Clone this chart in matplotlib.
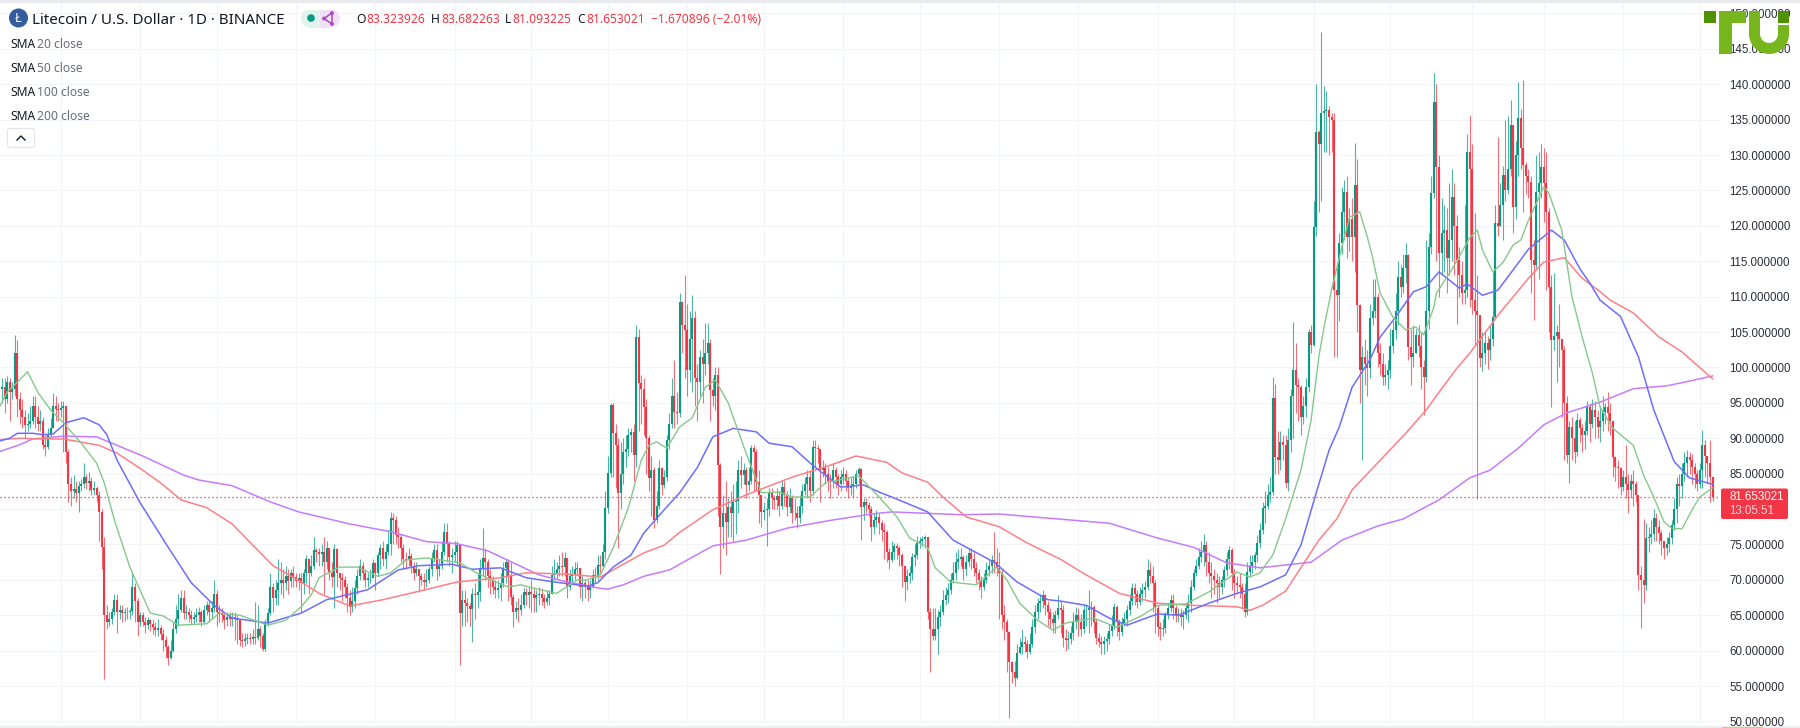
import matplotlib
matplotlib.use("Agg")
import matplotlib.pyplot as plt
from matplotlib.patches import Rectangle, FancyBboxPatch, Circle, Wedge

# ---------- data: daily closes / highs / lows ----------
closes = [
97.3,95.5,98.0,96.5,97.0,102.0,95.5,94.0,93.0,91.9,
92.0,92.5,94.5,93.0,92.0,92.5,89.0,88.7,90.5,91.5,
94.5,94.2,94.0,94.3,94.5,88.0,83.5,82.5,82.8,82.3,
83.2,83.6,84.5,83.7,83.9,82.7,83.0,82.0,79.6,74.7,
65.0,64.0,64.5,65.5,67.2,65.5,65.7,65.3,65.5,65.4,
65.6,69.0,67.0,64.0,65.0,64.0,63.6,64.3,63.7,63.3,
62.9,63.2,62.4,61.5,60.5,59.0,60.0,63.0,64.5,65.7,
67.4,65.3,65.5,65.0,64.5,64.8,65.0,65.5,64.0,65.7,
66.5,65.5,66.0,68.0,65.5,65.3,65.0,64.3,64.8,64.5,
64.7,64.5,64.3,61.5,61.3,61.6,61.8,61.7,61.9,61.8,
63.0,62.0,60.3,63.9,65.3,69.0,67.5,68.5,69.5,70.0,
69.5,70.5,69.8,71.0,70.4,69.8,70.2,69.5,71.0,73.0,
71.0,72.0,74.2,74.0,73.6,73.9,72.5,74.5,71.0,70.4,
74.3,71.0,70.2,70.0,69.0,67.5,66.2,67.0,68.8,70.5,
72.0,71.0,70.0,70.2,70.3,72.4,71.0,73.5,74.5,73.0,
74.0,75.0,78.7,78.5,76.3,76.0,74.5,73.0,72.8,73.3,
72.0,71.0,71.5,70.5,70.0,69.7,70.0,71.5,73.0,74.2,
71.5,72.0,74.0,76.7,75.0,73.2,73.5,74.0,74.9,65.3,
67.2,66.8,66.3,65.9,68.0,67.9,68.3,71.7,73.1,72.5,
70.5,70.0,69.0,68.5,68.8,69.5,71.7,72.5,70.5,67.6,
65.5,66.0,65.8,66.5,68.3,67.8,68.3,68.0,67.4,67.9,
68.0,67.5,66.9,67.5,68.0,70.7,71.0,71.5,72.0,71.8,
73.1,69.0,70.5,70.7,71.5,71.7,69.0,69.5,69.0,68.5,
69.0,70.7,70.5,72.1,72.0,73.9,80.2,85.1,94.7,90.7,
89.0,82.3,85.0,88.0,88.5,90.5,90.9,87.6,104.3,97.8,
97.0,94.4,90.0,84.4,85.5,78.4,80.5,85.8,83.4,84.5,
89.7,92.0,96.0,93.7,93.5,109.2,106.0,105.3,99.6,104.0,
107.0,98.5,98.0,101.5,100.5,102.0,103.5,96.8,96.0,98.9,
86.2,77.5,79.5,78.2,80.3,79.5,81.0,81.2,85.5,84.8,
85.5,83.4,84.0,88.6,88.0,83.8,82.0,79.6,79.8,80.0,
82.3,81.5,81.3,81.8,80.5,83.1,82.0,80.3,81.5,79.5,
79.5,78.7,80.5,82.6,83.5,84.5,82.5,88.8,88.6,88.5,
85.5,85.8,85.0,84.0,83.8,85.5,84.5,83.5,84.5,85.0,
84.0,83.0,83.3,83.5,85.0,85.7,80.3,81.0,80.6,80.0,
77.5,78.5,78.9,78.0,77.0,76.7,74.0,72.8,74.0,74.8,
74.5,73.5,72.0,69.7,70.5,71.0,73.2,73.5,75.2,75.5,
75.8,76.0,65.5,63.0,62.0,63.0,64.8,65.5,67.2,67.8,
68.5,70.0,71.0,72.5,73.0,73.2,71.5,72.5,73.8,73.0,
71.7,71.0,70.0,69.0,70.0,71.4,72.0,72.8,72.5,71.7,
71.0,65.0,64.0,62.6,58.4,57.0,56.1,59.7,60.5,61.2,
61.0,59.8,61.0,63.3,65.5,66.7,67.0,67.9,66.5,65.5,
64.5,63.9,65.0,66.0,65.8,61.8,61.5,61.7,62.5,64.0,
65.0,64.0,63.0,65.7,65.8,66.0,66.2,64.0,61.8,61.2,
61.0,61.4,61.6,62.8,63.5,66.2,64.0,62.6,63.9,64.5,
65.7,67.0,68.8,68.0,66.9,68.0,68.5,69.0,71.4,70.5,
69.5,66.0,63.3,63.0,63.2,65.0,66.0,67.2,66.0,65.0,
65.2,64.8,65.0,66.0,66.7,69.0,71.0,72.0,73.2,74.0,
74.9,72.5,71.0,70.5,70.0,69.5,69.0,70.0,71.4,73.0,
74.2,71.0,69.5,69.3,69.0,68.0,65.5,71.1,72.0,72.5,
73.5,75.2,77.0,80.2,80.5,82.0,82.4,95.7,87.4,87.0,
89.5,89.0,83.7,89.7,96.0,99.6,97.5,97.2,93.0,94.5,
97.2,105.0,103.2,119.8,133.3,131.5,135.9,136.2,136.4,135.4,
135.0,110.9,110.2,117.6,122.0,124.8,118.4,121.0,118.4,125.8,
108.8,99.6,101.5,100.5,99.9,107.0,108.0,110.0,102.0,100.5,
98.6,99.0,99.6,103.0,105.3,108.0,112.8,111.4,114.0,115.9,
102.9,101.5,102.0,104.6,103.0,100.0,98.6,108.0,117.0,124.6,
137.5,128.3,116.2,119.0,119.4,115.5,118.0,124.1,120.0,115.2,
113.0,110.5,111.0,130.4,128.0,109.5,108.0,107.4,101.3,102.0,
103.5,102.5,104.0,107.1,120.4,120.0,123.0,127.2,125.0,128.0,
134.2,122.7,130.0,135.2,131.0,128.6,127.0,126.2,115.2,114.5,
124.8,126.0,128.3,126.0,122.0,111.4,103.9,104.5,105.0,104.0,
102.5,95.0,87.6,91.6,90.0,88.0,92.6,91.5,90.5,91.0,
94.4,92.0,94.0,93.0,91.6,92.5,93.7,94.4,93.5,92.5,
87.3,86.0,85.8,83.1,84.5,83.5,82.7,84.0,83.5,82.0,
70.7,70.0,69.3,75.9,76.0,76.5,78.7,77.5,76.6,75.5,
74.5,75.0,75.9,77.7,80.0,83.6,83.3,85.0,86.5,87.3,
87.0,86.0,85.0,83.6,85.5,89.0,87.5,86.5,84.5,81.653,
]
highs = [
98.5,98.5,98.8,98.5,98.0,104.6,103.9,96.5,95.5,94.0,
93.5,94.5,96.0,96.0,94.5,94.0,93.0,90.5,91.5,92.8,
96.4,96.0,95.0,95.2,95.2,94.6,88.5,84.5,84.8,84.0,
84.0,84.3,86.5,85.0,85.2,84.5,84.0,83.3,82.5,80.0,
76.0,66.5,65.5,66.0,68.0,68.0,66.5,66.5,66.0,66.2,
66.0,71.0,69.5,67.5,65.5,65.5,64.8,64.8,64.5,64.5,
64.0,64.5,63.6,63.0,62.0,60.8,61.5,64.0,66.5,68.0,
68.5,68.5,66.5,66.0,65.8,65.5,66.0,66.2,65.8,66.5,
67.0,67.0,67.0,70.0,68.5,66.5,66.0,65.5,65.5,65.5,
65.5,65.5,65.0,64.5,62.5,62.5,62.5,62.5,63.0,66.9,
66.5,63.5,62.5,64.5,66.0,71.0,69.5,70.0,73.0,72.5,
71.5,72.0,71.5,71.5,72.0,71.0,71.0,71.0,71.5,73.5,
73.0,73.5,76.0,74.5,74.5,75.0,76.0,75.5,74.5,72.5,
75.0,74.5,71.0,71.0,70.5,69.5,68.5,69.0,70.0,71.5,
73.0,72.5,71.5,71.0,71.5,73.0,72.5,74.0,75.0,75.5,
75.0,77.0,79.6,79.5,79.0,77.5,76.5,75.0,74.0,74.5,
73.8,72.5,72.5,71.5,71.0,71.0,71.5,72.0,74.0,75.0,
75.0,73.0,75.5,78.0,78.0,75.5,74.5,75.5,75.5,75.0,
68.5,68.5,67.5,66.8,68.8,69.5,71.0,73.0,77.3,74.5,
73.0,71.5,70.5,70.0,70.0,71.0,72.5,73.0,73.0,72.5,
68.0,67.0,67.5,68.0,68.8,68.8,69.0,70.0,69.0,68.5,
69.0,68.8,68.0,68.5,68.5,72.0,73.0,72.5,73.5,74.0,
74.0,73.0,71.5,72.0,72.5,72.5,71.5,70.5,70.0,70.0,
70.0,71.5,71.8,73.5,73.5,75.0,82.5,87.5,95.0,95.0,
92.0,90.0,89.5,90.0,90.5,91.5,91.5,92.0,106.0,105.5,
99.0,98.5,95.5,90.5,87.5,86.0,82.5,87.0,86.0,85.5,
90.5,93.5,98.5,101.0,96.5,110.5,109.0,113.0,109.0,108.0,
110.2,108.0,100.5,102.5,104.0,106.3,106.3,104.0,98.5,100.0,
100.0,86.5,82.0,84.0,81.5,82.5,83.5,84.0,87.0,87.5,
86.5,86.0,86.0,89.0,89.0,88.5,85.5,82.0,81.0,81.5,
83.0,83.0,82.0,83.0,82.5,84.0,84.0,82.5,83.0,82.0,
81.5,80.5,82.0,83.5,84.5,85.5,85.5,89.7,89.7,89.0,
88.5,87.0,86.5,86.0,85.0,86.5,86.0,85.0,85.5,86.0,
85.5,84.5,84.5,84.5,85.5,86.0,85.8,81.5,81.5,81.0,
80.5,79.5,79.8,79.5,78.5,78.0,77.0,74.5,75.5,75.2,
75.2,74.8,73.8,72.0,71.5,72.0,73.8,75.0,76.2,76.0,
76.2,76.4,76.0,66.0,66.0,66.0,65.8,66.5,68.5,69.0,
69.5,71.0,72.5,74.0,74.3,74.5,73.5,73.5,74.5,74.5,
74.0,72.5,71.5,70.5,71.0,72.5,73.0,73.5,76.8,74.5,
74.0,71.5,66.5,64.5,62.8,58.5,58.5,61.0,61.8,63.0,
62.0,61.5,62.5,64.5,66.5,67.5,68.0,68.5,68.0,67.0,
66.0,65.5,65.8,67.8,67.0,66.5,63.0,62.8,63.5,65.5,
66.2,66.0,65.2,66.5,66.5,68.6,67.0,66.5,64.5,62.5,
62.0,62.0,62.5,63.8,65.0,66.8,66.5,64.5,64.8,65.5,
66.5,68.0,69.5,69.5,68.5,69.0,69.5,69.8,73.0,72.5,
72.0,70.0,66.5,64.0,64.5,65.5,66.8,67.8,68.0,66.5,
66.0,66.0,65.8,66.8,68.0,70.0,71.5,73.0,74.5,75.5,
76.5,75.5,74.0,72.5,71.5,71.0,70.5,70.5,72.0,74.0,
74.8,74.5,71.5,70.5,71.0,69.5,69.5,72.5,73.5,73.5,
74.0,76.3,78.0,81.0,82.5,83.5,84.5,98.7,97.6,91.0,
91.0,90.5,90.5,91.5,97.0,106.4,103.4,98.5,97.5,96.0,
98.5,105.5,106.0,123.5,140.0,133.5,147.4,139.8,139.0,137.0,
136.0,136.0,114.0,119.0,125.5,126.5,127.0,122.5,124.0,131.7,
129.4,109.0,103.0,104.0,102.5,109.0,112.5,112.5,110.5,103.5,
102.0,100.5,101.0,105.5,106.5,110.5,115.0,114.5,116.0,117.6,
116.0,105.5,106.0,105.5,106.0,105.0,101.0,118.0,119.0,127.0,
141.6,140.0,130.0,124.0,123.0,122.5,126.0,128.0,126.0,121.5,
117.0,115.0,123.0,133.0,135.7,131.5,121.8,113.0,103.5,105.0,
105.0,104.5,106.0,113.5,123.0,132.6,126.0,128.5,135.0,135.5,
137.8,134.0,132.0,140.3,136.5,140.6,129.0,128.0,127.0,118.0,
130.0,130.5,131.5,131.0,130.5,122.5,113.0,113.3,106.0,109.0,
104.0,103.0,96.0,92.5,93.0,92.5,93.5,93.0,92.0,92.5,
95.2,95.0,95.5,95.3,94.0,94.5,96.0,95.0,96.5,95.0,
92.5,87.5,87.0,86.0,85.5,89.0,85.0,85.0,85.5,84.0,
82.0,72.0,78.6,78.0,77.5,78.5,80.0,79.5,78.5,77.0,
75.5,76.0,76.8,78.5,81.5,84.5,85.0,86.5,88.0,88.3,
88.0,87.8,86.5,85.5,86.5,91.2,89.7,87.5,89.7,83.682,
]
lows = [
95.0,93.5,95.0,92.5,95.5,96.0,93.0,92.0,91.5,90.0,
91.0,91.5,92.0,91.5,91.0,91.0,88.5,87.5,88.5,90.0,
91.5,92.5,92.5,93.0,88.0,86.5,81.0,80.5,81.5,81.0,
79.6,82.5,83.0,82.8,82.5,82.0,82.0,81.0,75.5,71.5,
56.0,63.0,63.5,63.8,65.0,62.5,64.5,64.0,64.2,64.5,
64.5,65.0,64.0,62.0,63.5,63.5,62.5,63.0,62.8,62.3,
62.0,62.0,61.5,60.0,59.0,58.0,58.8,59.8,62.5,63.5,
65.5,64.5,64.5,64.0,63.8,63.8,64.0,64.0,63.5,63.8,
65.0,64.0,64.5,65.5,63.5,64.0,64.0,63.0,63.5,63.5,
63.5,61.5,61.0,60.7,60.5,60.7,61.0,61.0,61.0,61.0,
61.5,60.5,60.0,60.0,63.5,65.0,65.5,66.5,66.5,68.0,
67.5,68.5,68.0,69.0,69.0,69.0,68.5,65.5,68.0,69.5,
68.0,70.5,71.5,72.5,72.0,72.0,68.0,71.5,70.0,69.0,
66.0,69.0,68.5,67.0,67.5,65.5,65.0,65.5,66.0,68.0,
70.0,70.0,69.0,69.0,69.5,70.5,68.5,70.5,71.5,72.0,
71.5,73.5,73.5,75.0,75.0,74.5,72.5,71.5,71.5,72.0,
71.0,70.0,70.5,68.3,69.3,68.5,69.0,69.5,70.5,72.5,
70.0,70.5,71.5,73.5,72.5,72.0,71.0,72.5,72.0,58.0,
63.5,63.5,64.0,63.5,61.2,64.5,66.0,67.0,70.5,70.0,
69.0,68.0,68.0,67.5,67.5,67.0,69.0,69.5,67.0,66.4,
63.3,64.5,64.0,65.0,66.0,66.5,66.0,65.5,65.5,65.5,
66.5,66.5,66.0,66.5,66.5,68.0,70.0,70.0,70.5,70.5,
70.5,67.5,68.5,69.5,70.0,70.5,67.5,67.0,67.5,67.0,
67.5,68.8,69.5,70.0,71.0,71.5,73.0,79.5,84.5,84.5,
83.0,74.5,80.0,83.5,86.0,87.5,88.0,84.0,86.0,91.0,
92.0,90.5,85.0,82.5,79.0,77.3,78.0,80.0,82.0,83.0,
84.0,88.5,91.5,91.5,92.0,93.0,102.0,98.5,96.0,98.0,
96.5,94.5,92.5,96.0,95.0,99.0,100.5,92.5,94.5,94.0,
79.0,70.8,74.5,73.5,76.0,76.0,75.5,76.5,79.5,83.0,
83.5,81.5,82.5,83.5,82.5,82.5,78.0,77.5,78.5,74.8,
79.0,80.0,80.0,80.0,79.0,80.0,80.5,79.0,79.5,78.0,
78.5,77.3,78.0,79.5,82.0,81.5,81.0,82.0,86.0,86.5,
81.0,84.5,83.5,82.5,81.5,83.0,83.0,82.0,82.5,83.5,
82.5,81.5,82.0,81.5,83.0,83.5,75.6,78.5,79.5,79.0,
75.5,76.5,77.5,76.5,75.5,73.0,72.5,71.5,72.5,73.0,
73.0,72.0,69.0,67.0,68.5,69.5,70.0,72.0,73.0,74.5,
74.8,74.5,64.5,57.0,61.5,61.5,59.5,63.5,65.0,66.5,
66.8,68.0,69.5,70.0,71.5,72.0,70.0,70.5,72.0,71.5,
70.5,69.5,68.5,67.5,68.5,69.5,70.5,71.0,71.0,70.5,
64.5,63.0,61.5,57.0,50.5,55.5,55.0,56.0,59.5,59.5,
59.8,59.0,59.5,60.5,62.5,64.5,65.5,66.0,65.0,63.5,
63.0,62.5,62.5,64.5,62.5,60.5,60.0,60.2,61.0,61.5,
63.0,62.0,62.0,62.5,63.5,62.5,63.5,62.5,61.0,60.5,
59.5,59.5,60.0,61.0,62.0,63.0,62.0,61.5,62.0,63.5,
63.5,65.0,66.5,66.5,66.0,66.5,67.0,67.5,68.5,69.5,
65.5,62.5,62.0,61.5,62.0,62.5,64.5,65.5,64.5,64.0,
64.0,63.5,63.0,64.5,64.0,65.5,68.5,70.5,71.5,72.5,
72.0,70.5,69.5,67.5,68.0,66.8,67.5,68.0,69.0,70.5,
71.5,68.5,67.5,68.0,67.5,66.0,64.8,65.0,70.5,71.0,
71.5,72.5,74.5,76.5,78.0,80.0,81.0,82.0,85.0,85.0,
85.5,87.0,83.0,82.5,88.0,90.0,93.5,92.5,90.5,92.0,
93.0,96.5,102.0,103.0,118.5,122.0,123.5,130.5,130.5,130.0,
130.5,101.5,101.5,106.5,116.0,118.0,115.5,116.5,115.0,113.5,
105.0,95.0,86.9,97.5,96.0,98.5,106.0,107.0,100.0,99.0,
97.5,97.5,97.0,98.5,102.0,104.0,106.0,110.0,110.5,112.0,
101.0,97.5,100.0,102.0,101.5,97.0,93.3,98.0,105.5,116.0,
124.0,115.0,110.0,113.0,113.5,110.5,113.0,115.0,113.0,106.2,
110.0,109.0,109.0,110.0,108.5,107.5,103.0,81.4,100.0,99.5,
100.5,99.8,101.0,103.0,107.0,118.5,120.0,118.0,123.5,124.5,
127.0,119.0,121.0,127.0,128.0,122.0,124.5,124.0,110.5,106.7,
114.0,112.5,124.0,120.5,111.0,105.0,94.4,102.5,98.0,100.0,
93.0,87.0,86.5,83.7,87.0,86.5,87.5,89.5,88.0,88.5,
90.5,89.5,91.5,90.0,90.0,89.5,91.0,92.0,91.0,90.5,
84.5,84.0,83.0,82.0,82.5,81.5,79.5,81.5,80.5,81.0,
68.5,63.2,66.8,68.5,74.0,75.0,75.5,75.5,75.0,73.5,
73.0,73.5,74.0,75.0,77.0,78.0,80.5,81.5,84.0,84.5,
85.0,83.5,83.0,82.5,83.0,83.0,84.5,83.5,81.0,81.093,
]
first_open = 97.0

# ---------- moving averages (bar index, price) ----------
sma20_days = [-1,2,6,10,14,19,24,31,37,40,44,50,58,63,69,80,85,93,104,111,117,121,124,132,139,147,152,158,166,172,179,185,193,198,203,207,217,225,229,234,239,245,250,253,256,260,265,270,275,279,284,291,297,304,309,316,322,335,343,350,355,362,365,371,381,389,393,398,405,411,416,427,436,446,452,463,472,483,488,492,497,502,508,512,515,517,520,524,527,531,534,536,539,544,549,553,556,560,561,567,574,577,579,583,587,591,594,597,603,605,610,614,618,622,625,630,638,642,646,650,653,657,661,664,669]
sma20_vals = [94.4,96.5,97.9,99.4,96.5,94.0,92.2,89.3,86.5,83.7,78.4,71.8,65.3,64.9,63.6,63.8,65.3,65.0,63.6,64.3,66.2,67.9,70.3,71.8,71.8,70.5,71.0,72.8,73.1,72.8,72.4,71.1,69.7,69.0,69.3,68.9,68.1,70.0,70.0,70.7,74.5,80.2,86.9,89.0,89.5,88.6,91.6,92.9,97.2,98.2,95.0,87.9,82.3,82.4,81.7,81.7,83.7,84.7,81.7,78.9,75.9,74.6,71.7,69.7,69.3,71.8,70.0,66.7,64.3,62.9,63.9,64.6,63.3,65.0,66.4,66.6,68.3,71.1,70.4,71.0,73.5,78.6,85.5,92.6,101.5,105.6,111.0,117.0,121.2,122.0,118.4,115.6,110.5,107.1,105.3,105.7,104.6,108.5,110.5,113.8,118.3,119.4,116.6,113.5,114.8,117.3,118.0,120.8,125.5,124.6,119.4,110.0,104.3,99.2,94.4,91.4,89.0,84.8,81.7,78.2,77.3,77.2,79.9,81.7,83.0]

sma50_days = [-1,3,6,12,16,20,25,32,38,41,45,54,65,74,83,90,104,117,127,143,155,163,176,184,195,205,216,229,233,239,246,251,259,265,272,278,286,295,300,309,317,328,337,343,348,362,372,388,397,409,414,424,433,440,452,460,472,483,492,502,508,511,514,519,523,528,535,539,545,552,557,562,570,573,579,585,590,597,600,606,611,617,621,625,633,640,646,654,660,669]
sma50_vals = [89.6,90.0,90.7,90.7,90.5,90.6,92.2,92.9,91.9,90.5,86.9,80.9,74.6,69.6,66.4,64.6,63.9,65.3,67.2,68.6,71.4,72.0,72.2,71.5,71.7,70.3,69.7,69.1,69.6,71.8,73.5,76.6,79.9,82.3,85.9,90.2,91.4,90.9,89.3,88.8,86.2,83.1,83.4,82.4,81.7,79.6,75.6,72.5,69.7,67.2,67.0,66.4,64.6,63.6,65.2,65.0,66.7,68.1,69.0,70.7,74.9,78.6,82.3,88.3,91.6,97.2,101.1,104.3,107.1,110.7,111.4,113.5,111.2,111.8,110.2,110.9,113.3,116.7,117.6,119.4,118.0,114.0,111.9,109.5,107.2,101.5,94.0,86.7,84.4,83.5]

sma100_days = [-1,7,16,24,38,45,55,62,70,80,90,97,106,117,124,136,149,162,178,195,205,221,234,239,251,259,265,278,291,309,324,334,346,352,362,368,377,390,401,414,424,437,452,466,483,488,493,502,515,522,528,539,549,557,562,569,574,586,597,603,611,618,625,629,638,648,657,669]
sma100_vals = [89.8,90.0,89.9,89.9,89.0,87.9,85.5,83.7,81.3,80.2,77.9,75.3,72.0,69.7,68.1,66.3,67.2,68.3,69.7,70.3,71.0,70.8,70.4,71.4,73.8,74.9,76.7,79.9,82.0,84.5,86.2,87.5,86.6,85.1,83.8,81.7,78.9,77.5,75.2,72.9,70.7,68.1,66.7,66.4,66.2,65.7,66.4,68.4,75.6,78.6,82.7,86.9,90.7,94.0,96.5,99.9,102.0,107.8,112.6,114.9,115.5,112.6,110.7,109.5,107.7,104.3,102.2,98.4]

sma200_days = [-1,7,12,24,37,43,55,71,77,90,105,116,136,152,166,178,190,200,210,221,234,237,243,251,261,278,291,307,324,340,348,375,390,403,433,452,466,479,492,512,524,538,548,562,574,582,593,603,612,625,638,651,659,669]
sma200_vals = [88.1,89.1,89.9,90.3,90.2,89.3,87.5,84.8,84.1,83.3,81.0,79.6,77.9,76.8,75.4,75.1,74.1,72.4,70.7,69.7,68.8,68.7,69.3,70.5,71.4,74.8,75.6,77.3,78.4,79.3,79.6,79.2,79.3,78.9,78.0,75.9,74.6,72.4,71.7,72.5,75.6,77.6,78.6,81.3,84.4,85.5,88.6,91.9,93.6,95.1,97.0,97.4,98.0,98.8]

# 80.000000 is hidden behind the last-price tag in the reference, so it gets no label
price_ticks = [50,55,60,65,70,75,80,85,90,95,100,105,110,115,120,125,130,135,140,145,150]
hidden_tick = 80
month_grid_days = [23,54,84,115,146,177,207,237,268,298,329,359,390,421,452,482,513,543,575,603,634,664]
last_price = 81.653021

title_text = "Litecoin / U.S. Dollar · 1D · BINANCE"
ohlc_labels = ["O", "H", "L", "C"]
ohlc_values = ["83.323926", "83.682263", "81.093225", "81.653021"]
change_text = "−1.670896 (−2.01%)"
sma_periods = ["20", "50", "100", "200"]
countdown = "13:05:51"

# ---------- styles ----------
UP, DOWN = "#089981", "#F23645"
GRID = "#F3F4F7"
TXT = "#131722"
W, H = 1800, 728
FONT = "Noto Sans"
AXFONT = "Liberation Sans"

fig = plt.figure(figsize=(W/100, H/100), dpi=100, facecolor="white")
pane_l, pane_r, pane_t, pane_b = 0, 1720, 3, 724
ax = fig.add_axes([pane_l/W, 1-pane_b/H, (pane_r-pane_l)/W, (pane_b-pane_t)/H])
ax.set_xlim(-0.78, 671.9)
ax.set_ylim(49.64, 151.48)
for s in ax.spines.values():
    s.set_visible(False)
ax.set_xticks(month_grid_days)
ax.set_xticklabels([])
ax.set_yticks(price_ticks)
ax.set_yticklabels(["" if t == hidden_tick else f"{t:.6f}" for t in price_ticks],
                   fontsize=8.3, color="#2a2e39", fontname=AXFONT)
ax.yaxis.tick_right()
ax.tick_params(length=0, pad=6.5)
ax.grid(True, color=GRID, lw=0.85)
ax.set_axisbelow(True)

opens = [first_open] + closes[:-1]
idx = list(range(len(closes)))
cols = [UP if c >= o else DOWN for o, c in zip(opens, closes)]
ax.vlines(idx, lows, highs, colors=cols, lw=0.8, alpha=0.72, zorder=2)
ax.vlines(idx, [min(o, c) for o, c in zip(opens, closes)],
          [max(o, c) for o, c in zip(opens, closes)],
          colors=cols, lw=1.5, zorder=3, capstyle="butt")

ax.axhline(last_price, color=DOWN, lw=0.9, ls=(0, (1, 2.2)), zorder=2.5)
ax.plot(sma200_days, sma200_vals, color="#C57BFF", lw=1.1, zorder=4)
ax.plot(sma100_days, sma100_vals, color="#FF7F86", lw=1.1, zorder=4)
ax.plot(sma50_days, sma50_vals, color="#6D6DFF", lw=1.1, zorder=4)
ax.plot(sma20_days, sma20_vals, color="#86C88A", lw=1.0, zorder=4)

# overlay in picture pixels for the chart's furniture
ov = fig.add_axes([0, 0, 1, 1], facecolor="none")
ov.set_xlim(0, W); ov.set_ylim(H, 0); ov.axis("off")

ov.add_patch(Rectangle((0, 0), W, 2.5, color="#E9EBEE", lw=0))
ov.add_patch(Rectangle((0, 725.5), W, 2.5, color="#ECEEF1", lw=0))
ov.add_patch(Rectangle((1722, 726.5), 41, 1.5, color="#F4C542", lw=0))

# header
ov.add_patch(Circle((18.5, 18), 9.5, color="#345D9D", lw=0))
ov.text(18.5, 18, "Ł", color="white", fontsize=9, fontweight="bold", ha="center", va="center", fontname=FONT)
ov.text(32, 20, title_text, color=TXT, fontsize=10.9, ha="left", va="center", fontname=FONT)

ov.add_patch(Rectangle((310, 9.5), 10, 18, color="#DFF3EF", lw=0))
ov.add_patch(Wedge((310, 18.5), 9, 90, 270, color="#DFF3EF", lw=0))
ov.add_patch(Wedge((331, 18.5), 9, -90, 90, color="#F1E1F7", lw=0))
ov.add_patch(Rectangle((320, 9.5), 11, 18, color="#F1E1F7", lw=0))
ov.add_patch(Circle((311, 18), 3.8, color=UP, lw=0))
ov.plot([324, 332, 332, 324], [18.5, 13, 24, 18.5], color="#A846C4", lw=1.1)
for (px, py) in [(324, 18.5), (332, 13), (332, 24)]:
    ov.add_patch(Circle((px, py), 1.9, color="#A846C4", lw=0))

# OHLC line
ohlc_lx = [356, 431, 505, 577]
ohlc_vx = [366, 441, 512, 586]
for lab, val, lx, vx in zip(ohlc_labels, ohlc_values, ohlc_lx, ohlc_vx):
    ov.text(lx, 19.5, lab, color=TXT, fontsize=8.7, va="center", fontname=FONT)
    ov.text(vx, 19.5, val, color=DOWN, fontsize=8.7, va="center", fontname=FONT)
ov.text(651, 19.5, change_text, color=DOWN, fontsize=8.7, va="center", fontname=FONT)

# indicator legend
for per, y in zip(sma_periods, [44, 68, 92, 116]):
    ov.text(10, y, "SMA", color=TXT, fontsize=8.7, va="center", fontname=FONT)
    ov.text(37, y, f"{per} close", color="#6a6d78", fontsize=8.7, va="center", fontname=FONT)

ov.add_patch(FancyBboxPatch((7.5, 128.5), 27, 19, boxstyle="round,pad=0,rounding_size=2.5",
                            fc="white", ec="#E0E3EB", lw=0.8))
ov.plot([17, 21, 25], [140, 136, 140], color=TXT, lw=1.0)

# last price tag
ov.add_patch(FancyBboxPatch((1721, 488.5), 67, 30.5, boxstyle="round,pad=0,rounding_size=2",
                            color=DOWN, lw=0, zorder=5))
ov.text(1729, 497.5, f"{last_price:.6f}", color="white", fontsize=8.3, va="center", fontname=AXFONT, zorder=6)
ov.text(1729, 511, countdown, color="#FBD5D9", fontsize=8.3, va="center", fontname=AXFONT, zorder=6)

# site logo
LIGHT, DARK = "#76B51C", "#4E9200"
ov.add_patch(Rectangle((1704, 11), 12, 12, color=DARK, lw=0, zorder=7))
ov.add_patch(Rectangle((1719, 11), 27, 12, color=LIGHT, lw=0, zorder=7))
ov.add_patch(Rectangle((1719, 11), 13, 43, color=LIGHT, lw=0, zorder=7))
ov.add_patch(Rectangle((1749, 11), 11, 25, color=LIGHT, lw=0, zorder=7))
ov.add_patch(Rectangle((1778, 25), 11, 11, color=LIGHT, lw=0, zorder=7))
ov.add_patch(Rectangle((1778, 11), 11, 12, color=DARK, lw=0, zorder=7))
ov.add_patch(Wedge((1769, 34), 20, 0, 180, width=11, color=LIGHT, lw=0, zorder=7))

fig.savefig("out.png", dpi=100, facecolor="white")
